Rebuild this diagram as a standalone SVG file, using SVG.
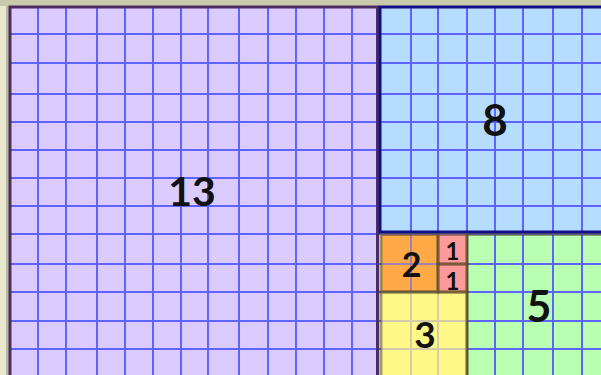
<svg xmlns="http://www.w3.org/2000/svg" width="601" height="375" viewBox="0 0 601 375">
<style>
.grid line{stroke:#5f63ff;stroke-width:2}
.sb{stroke:rgb(80,70,30);stroke-opacity:0.5;stroke-width:3}
.lbl{font-family:Lato,"Open Sans","Liberation Sans",sans-serif;font-weight:700;fill:#111;text-anchor:middle}
</style>
<rect x="0" y="0" width="601" height="375" fill="#e9e9cf"/>
<rect x="0" y="0" width="601" height="6" fill="#c9c9ab"/>
<rect x="6" y="6" width="3" height="369" fill="#b9b9a0"/>

<g id="sq13"><rect x="10" y="7" width="367.5" height="380" fill="#dccbff"/></g>
<g id="sq8"><rect x="380" y="7" width="240" height="225" fill="#b6dcff"/></g>
<g id="sq5"><rect x="467" y="234.5" width="150" height="150" fill="#b8ffb2"/></g>
<g id="sq3"><rect x="381" y="292" width="86" height="90" fill="#fff687"/></g>
<g id="sq2"><rect x="381" y="234.5" width="57" height="57.5" fill="#ffab47"/></g>

<g class="grid">
<line x1="38" y1="7" x2="38" y2="375"/>
<line x1="66" y1="7" x2="66" y2="375"/>
<line x1="97" y1="7" x2="97" y2="375"/>
<line x1="125" y1="7" x2="125" y2="375"/>
<line x1="153" y1="7" x2="153" y2="375"/>
<line x1="181" y1="7" x2="181" y2="375"/>
<line x1="208" y1="7" x2="208" y2="375"/>
<line x1="239" y1="7" x2="239" y2="375"/>
<line x1="268" y1="7" x2="268" y2="375"/>
<line x1="296" y1="7" x2="296" y2="375"/>
<line x1="324" y1="7" x2="324" y2="375"/>
<line x1="352" y1="7" x2="352" y2="375"/>
<line x1="411" y1="7" x2="411" y2="375"/>
<line x1="438" y1="7" x2="438" y2="375"/>
<line x1="467" y1="7" x2="467" y2="375"/>
<line x1="495" y1="7" x2="495" y2="375"/>
<line x1="523" y1="7" x2="523" y2="375"/>
<line x1="553" y1="7" x2="553" y2="375"/>
<line x1="582" y1="7" x2="582" y2="375"/>
<line x1="10" y1="34" x2="601" y2="34"/>
<line x1="10" y1="63" x2="601" y2="63"/>
<line x1="10" y1="94" x2="601" y2="94"/>
<line x1="10" y1="122" x2="601" y2="122"/>
<line x1="10" y1="150" x2="601" y2="150"/>
<line x1="10" y1="178" x2="601" y2="178"/>
<line x1="10" y1="206" x2="601" y2="206"/>
<line x1="10" y1="234" x2="601" y2="234"/>
<line x1="10" y1="264" x2="601" y2="264"/>
<line x1="10" y1="292" x2="601" y2="292"/>
<line x1="10" y1="321" x2="601" y2="321"/>
<line x1="10" y1="349" x2="601" y2="349"/>
</g>

<rect x="381" y="292" width="86" height="90" fill="#fff687" fill-opacity="0.72"/>
<rect x="381" y="234.5" width="57" height="57.5" fill="#ffab47" fill-opacity="0.4"/>

<g id="sq1a"><rect x="438" y="234.5" width="29" height="29.5" fill="#ff9a9a"/></g>
<g id="sq1b"><rect x="438" y="264" width="29" height="28" fill="#ff9a9a"/></g>

<rect x="10" y="7" width="367.5" height="380" fill="none" stroke="#4a2e62" stroke-width="3"/>
<rect x="380" y="7" width="240" height="225" fill="none" stroke="#10108a" stroke-width="3"/>
<rect class="sb" x="467" y="234.5" width="150" height="150" fill="none"/>
<rect class="sb" x="381" y="292" width="86" height="90" fill="none"/>
<rect class="sb" x="381" y="234.5" width="57" height="57.5" fill="none"/>
<rect class="sb" x="438" y="234.5" width="29" height="29.5" fill="none"/>
<rect class="sb" x="438" y="264" width="29" height="28" fill="none"/>

<text class="lbl" x="192" y="206" font-size="41">13</text>
<text class="lbl" x="495" y="135.5" font-size="44">8</text>
<text class="lbl" x="539" y="322" font-size="43">5</text>
<text class="lbl" x="425" y="348" font-size="37">3</text>
<text class="lbl" x="411.5" y="276.5" font-size="34">2</text>
<text class="lbl" x="452.5" y="260" font-size="24">1</text>
<text class="lbl" x="452.5" y="289.5" font-size="24">1</text>
</svg>
